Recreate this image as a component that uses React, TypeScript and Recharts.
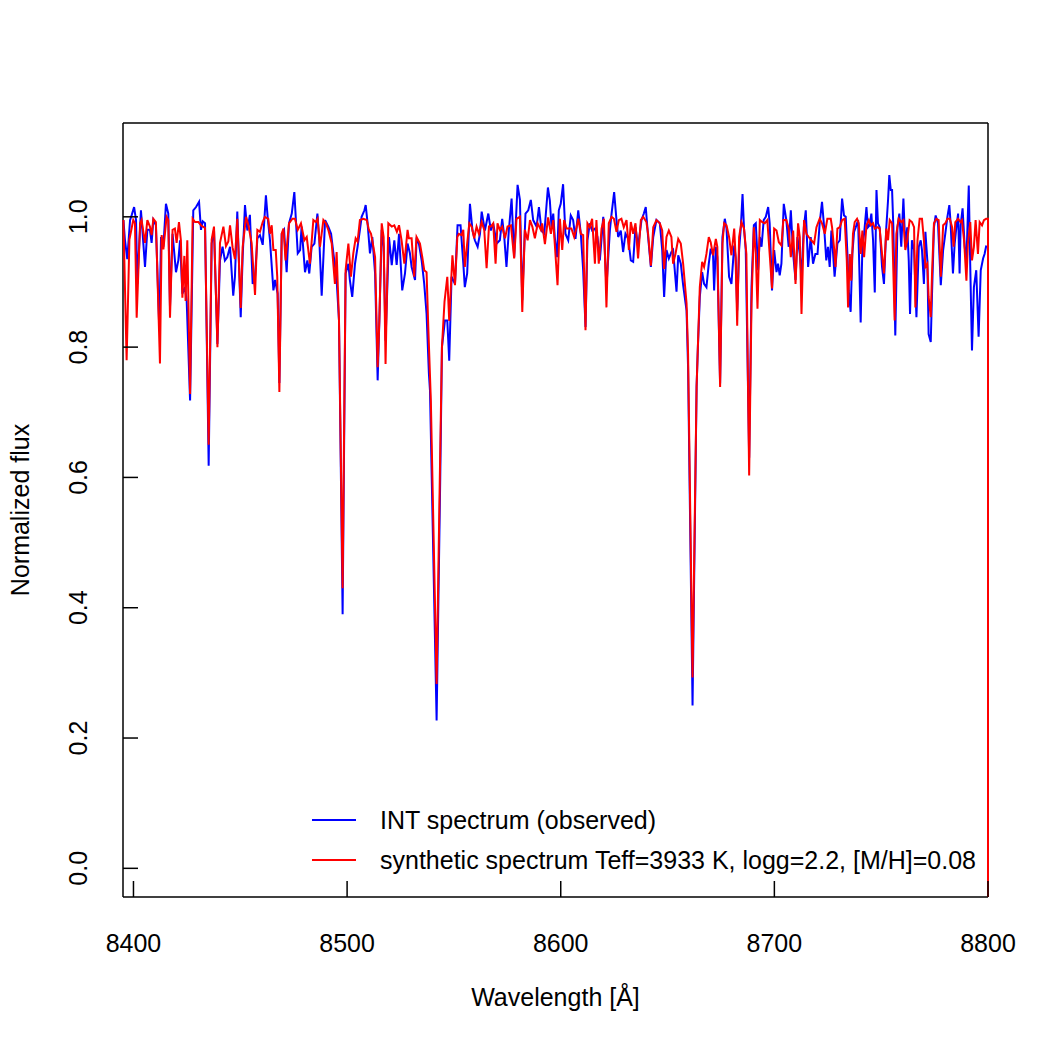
import { LineChart, Line, XAxis, YAxis, CartesianGrid, Legend } from "recharts";

// [wavelength (Å), normalized flux]
const observedSpectrum: [number, number][] = [
  [8395.3, 0.995], [8396.0, 0.965], [8397.1, 0.935], [8398.4, 0.995], [8399.2, 1.003], [8400.3, 1.015],
  [8401.2, 0.995], [8401.8, 0.897], [8403.5, 1.01], [8404.6, 0.96], [8405.4, 0.923], [8406.5, 0.98],
  [8407.7, 0.98], [8408.5, 0.96], [8409.3, 0.995], [8410.5, 0.987], [8412.1, 0.826], [8412.9, 0.969],
  [8414.0, 0.954], [8415.2, 1.02], [8416.3, 1.005], [8417.1, 0.862], [8418.3, 0.974], [8419.9, 0.915],
  [8421.0, 0.933], [8421.8, 0.964], [8422.9, 0.882], [8424.1, 0.892], [8424.9, 0.872], [8426.5, 0.718],
  [8428.0, 1.01], [8429.3, 1.015], [8430.7, 1.023], [8431.6, 0.98], [8432.4, 0.993], [8433.5, 0.99],
  [8435.2, 0.618], [8436.6, 0.959], [8437.7, 0.98], [8439.3, 0.805], [8440.5, 0.933], [8441.7, 0.954],
  [8442.8, 0.933], [8443.9, 0.938], [8445.2, 0.954], [8446.7, 0.879], [8447.5, 0.908], [8448.6, 1.008],
  [8450.2, 0.846], [8451.1, 0.938], [8452.2, 1.018], [8453.3, 0.979], [8454.5, 1.003], [8455.8, 0.897],
  [8456.9, 0.908], [8458.0, 0.967], [8459.2, 0.972], [8460.5, 0.957], [8462.0, 1.033], [8462.8, 1.0],
  [8463.9, 0.964], [8465.5, 0.887], [8466.3, 0.903], [8467.5, 0.882], [8468.3, 0.745], [8469.4, 0.974],
  [8470.5, 0.98], [8471.7, 0.915], [8472.8, 0.99], [8474.1, 1.005], [8475.3, 1.038], [8476.9, 0.944],
  [8478.0, 0.949], [8478.7, 0.985], [8480.3, 0.915], [8481.4, 0.933], [8482.3, 0.913], [8483.4, 0.954],
  [8484.7, 0.959], [8486.1, 1.005], [8487.0, 0.964], [8488.1, 0.879], [8489.7, 0.995], [8491.2, 0.985],
  [8492.5, 0.974], [8494.0, 0.933], [8495.1, 0.903], [8496.2, 0.841], [8497.9, 0.39], [8499.3, 0.913],
  [8500.6, 0.928], [8501.3, 0.903], [8502.4, 0.877], [8503.7, 0.928], [8504.9, 0.954], [8506.0, 0.98],
  [8506.8, 1.0], [8508.1, 1.01], [8508.7, 1.018], [8509.6, 0.99], [8510.7, 0.944], [8511.8, 0.969],
  [8513.1, 0.913], [8514.3, 0.749], [8515.1, 0.841], [8516.2, 0.98], [8517.1, 0.954], [8518.0, 0.81],
  [8519.6, 0.969], [8520.9, 0.926], [8522.1, 0.964], [8523.2, 0.926], [8524.3, 0.974], [8525.8, 0.887],
  [8527.1, 0.913], [8528.3, 0.959], [8529.4, 0.944], [8530.2, 0.923], [8531.8, 0.903], [8532.5, 0.964],
  [8533.6, 0.959], [8534.9, 0.933], [8536.1, 0.897], [8537.2, 0.851], [8538.3, 0.759], [8538.8, 0.733],
  [8541.9, 0.227], [8543.6, 0.6], [8544.4, 0.8], [8545.8, 0.841], [8546.9, 0.841], [8547.8, 0.779],
  [8548.9, 0.908], [8550.5, 0.897], [8551.7, 0.987], [8553.1, 0.987], [8554.4, 0.928], [8555.1, 0.892],
  [8556.2, 0.913], [8557.5, 1.02], [8558.7, 0.979], [8559.8, 0.964], [8561.1, 0.954], [8562.2, 0.974],
  [8563.0, 1.008], [8564.5, 0.979], [8566.1, 1.005], [8567.3, 0.979], [8568.4, 0.99], [8570.0, 0.959],
  [8571.5, 0.964], [8572.6, 0.997], [8573.5, 0.972], [8574.6, 0.923], [8575.7, 0.979], [8577.0, 1.028],
  [8578.2, 0.938], [8579.8, 1.049], [8580.9, 1.026], [8582.0, 0.872], [8583.5, 1.005], [8584.8, 1.01],
  [8586.0, 1.026], [8587.1, 0.995], [8588.7, 0.985], [8589.8, 1.015], [8591.0, 0.979], [8592.3, 0.974],
  [8594.0, 1.045], [8594.9, 1.025], [8595.7, 0.984], [8596.5, 1.005], [8597.2, 0.969], [8598.3, 0.938],
  [8599.1, 1.01], [8600.0, 1.02], [8601.1, 1.05], [8602.2, 0.974], [8603.5, 0.964], [8604.7, 1.002],
  [8605.8, 0.995], [8606.9, 0.966], [8608.2, 1.01], [8609.4, 0.974], [8610.5, 0.918], [8611.6, 0.831],
  [8612.5, 0.964], [8613.6, 0.99], [8614.7, 0.979], [8616.0, 0.982], [8617.2, 0.969], [8618.3, 0.933],
  [8619.9, 1.0], [8621.4, 0.892], [8623.0, 0.979], [8623.8, 1.005], [8625.0, 1.038], [8626.1, 0.995],
  [8626.9, 0.969], [8628.1, 0.979], [8629.2, 0.946], [8630.3, 0.974], [8631.6, 0.966], [8632.8, 0.933],
  [8633.9, 0.931], [8635.0, 0.984], [8636.2, 0.954], [8637.8, 0.995], [8638.9, 1.005], [8639.8, 1.015],
  [8640.9, 0.969], [8642.2, 0.923], [8643.3, 0.969], [8644.8, 0.995], [8646.4, 0.99], [8647.5, 0.949],
  [8648.4, 0.877], [8649.5, 0.949], [8650.6, 0.936], [8651.8, 0.946], [8652.6, 0.949], [8654.2, 0.885],
  [8655.0, 0.941], [8656.2, 0.928], [8657.3, 0.895], [8658.9, 0.856], [8659.6, 0.77], [8661.7, 0.25],
  [8663.6, 0.74], [8664.2, 0.8], [8665.1, 0.877], [8666.2, 0.915], [8667.1, 0.897], [8668.2, 0.892],
  [8669.3, 0.928], [8670.2, 0.951], [8671.3, 0.941], [8671.8, 0.887], [8672.6, 0.954], [8673.3, 0.938],
  [8674.6, 0.744], [8675.7, 0.969], [8676.8, 0.997], [8677.6, 0.982], [8678.8, 0.908], [8679.9, 0.897],
  [8681.2, 0.956], [8681.9, 0.938], [8682.6, 0.856], [8683.5, 0.949], [8684.3, 0.984], [8685.1, 1.035],
  [8685.8, 0.982], [8686.6, 0.949], [8688.2, 0.63], [8689.3, 0.892], [8690.4, 0.987], [8691.3, 0.99],
  [8692.4, 0.918], [8693.2, 0.969], [8694.0, 0.954], [8695.0, 0.995], [8696.0, 1.0], [8697.1, 1.015],
  [8697.8, 0.99], [8698.9, 0.887], [8699.9, 0.949], [8701.0, 0.915], [8701.7, 0.928], [8702.5, 0.91],
  [8703.3, 0.928], [8704.4, 1.02], [8705.6, 0.995], [8706.7, 0.954], [8707.7, 1.01], [8708.8, 0.943],
  [8709.9, 0.903], [8710.8, 0.969], [8711.9, 0.943], [8712.7, 0.908], [8713.8, 0.984], [8714.7, 1.01],
  [8715.8, 0.923], [8717.0, 0.969], [8718.1, 0.928], [8719.2, 0.943], [8720.2, 0.943], [8721.2, 0.99],
  [8722.3, 1.023], [8723.3, 0.984], [8724.3, 0.933], [8725.1, 0.954], [8725.9, 0.923], [8726.7, 0.979],
  [8727.5, 0.943], [8728.2, 0.908], [8729.5, 0.959], [8730.6, 0.964], [8731.7, 1.028], [8732.6, 1.002],
  [8733.4, 1.0], [8734.2, 0.943], [8734.8, 0.887], [8735.7, 0.854], [8736.5, 0.943], [8737.3, 0.977],
  [8738.1, 0.984], [8739.2, 0.995], [8740.4, 0.838], [8741.2, 0.954], [8742.0, 0.974], [8743.1, 1.015],
  [8743.8, 0.984], [8744.6, 0.987], [8745.4, 1.005], [8746.2, 0.964], [8747.0, 0.884], [8747.8, 1.041],
  [8748.5, 0.99], [8749.3, 0.984], [8750.4, 0.923], [8751.3, 0.897], [8752.4, 0.984], [8753.2, 1.025],
  [8753.8, 1.064], [8754.5, 1.041], [8755.1, 1.041], [8755.7, 0.984], [8756.6, 0.818], [8757.6, 0.984],
  [8758.5, 1.005], [8759.4, 0.954], [8760.4, 1.028], [8761.3, 0.954], [8762.2, 0.984], [8762.9, 0.933],
  [8763.5, 0.851], [8764.4, 0.964], [8765.4, 0.949], [8766.5, 0.846], [8767.6, 0.954], [8768.5, 0.964],
  [8769.1, 0.949], [8770.0, 0.897], [8770.7, 0.977], [8771.6, 0.933], [8772.2, 0.82], [8773.2, 0.808],
  [8773.8, 0.882], [8774.7, 0.984], [8775.5, 1.002], [8776.6, 0.99], [8777.9, 0.895], [8779.0, 0.949],
  [8780.0, 0.974], [8781.0, 1.0], [8781.9, 1.018], [8782.5, 0.99], [8783.6, 0.913], [8784.4, 0.959],
  [8785.2, 0.984], [8786.0, 1.005], [8786.7, 0.913], [8787.2, 0.987], [8788.1, 1.013], [8789.1, 0.954],
  [8789.9, 0.933], [8791.0, 1.048], [8791.7, 0.923], [8792.5, 0.795], [8793.4, 0.892], [8794.5, 0.918],
  [8795.6, 0.816], [8796.6, 0.918], [8797.7, 0.936], [8798.4, 0.943], [8799.2, 0.956],
];

const syntheticSpectrum: [number, number][] = [
  [8395.3, 0.995], [8396.8, 0.78], [8398.1, 0.965], [8399.9, 0.995], [8400.7, 0.99], [8401.5, 0.845],
  [8403.1, 0.99], [8403.8, 0.995], [8405.4, 0.96], [8406.5, 0.995], [8407.7, 0.985], [8408.5, 0.972],
  [8409.3, 0.997], [8410.5, 0.992], [8412.4, 0.775], [8413.2, 0.972], [8414.0, 0.95], [8415.5, 1.0],
  [8416.3, 0.995], [8417.1, 0.845], [8418.3, 0.98], [8419.4, 0.982], [8420.2, 0.96], [8421.3, 0.992],
  [8422.2, 0.964], [8422.9, 0.876], [8423.8, 0.94], [8424.4, 0.871], [8425.2, 0.964], [8426.5, 0.728],
  [8427.7, 0.997], [8428.8, 0.992], [8430.4, 0.992], [8431.9, 0.986], [8433.5, 0.983], [8435.2, 0.65],
  [8436.6, 0.965], [8437.7, 0.985], [8439.3, 0.8], [8440.5, 0.96], [8442.1, 0.985], [8443.3, 0.955],
  [8444.4, 0.962], [8445.2, 0.987], [8446.4, 0.953], [8447.5, 0.935], [8448.6, 0.997], [8450.2, 0.86],
  [8451.1, 0.953], [8452.7, 1.0], [8453.8, 0.987], [8455.3, 0.96], [8456.9, 0.88], [8458.0, 0.98],
  [8459.2, 0.977], [8460.5, 0.992], [8461.5, 1.0], [8463.1, 0.997], [8463.9, 0.974], [8464.7, 0.987],
  [8465.5, 0.949], [8466.6, 0.949], [8467.3, 0.908], [8468.3, 0.731], [8469.4, 0.974], [8470.2, 0.982],
  [8471.2, 0.933], [8472.8, 0.99], [8474.4, 0.997], [8475.6, 0.997], [8476.9, 0.98], [8478.4, 0.99],
  [8480.0, 0.964], [8481.1, 0.969], [8482.6, 0.928], [8484.2, 0.995], [8485.3, 0.992], [8486.2, 0.997],
  [8487.3, 0.954], [8488.9, 0.995], [8490.1, 0.99], [8491.2, 0.98], [8492.8, 0.959], [8494.3, 0.897],
  [8495.1, 0.946], [8496.2, 0.841], [8497.9, 0.43], [8499.3, 0.918], [8500.6, 0.959], [8501.8, 0.908],
  [8502.9, 0.944], [8504.0, 0.967], [8504.9, 0.962], [8506.0, 0.995], [8507.6, 0.997], [8509.2, 0.995],
  [8510.2, 0.98], [8511.2, 0.974], [8512.3, 0.954], [8513.1, 0.938], [8514.3, 0.769], [8515.1, 0.841],
  [8516.2, 0.99], [8517.1, 0.969], [8518.0, 0.774], [8519.3, 0.99], [8520.9, 0.985], [8522.1, 0.987],
  [8523.3, 0.977], [8524.3, 0.987], [8525.5, 0.964], [8526.8, 0.928], [8528.3, 0.98], [8528.9, 0.967],
  [8530.2, 0.967], [8531.4, 0.908], [8532.5, 0.969], [8534.1, 0.959], [8535.2, 0.938], [8536.1, 0.918],
  [8537.2, 0.915], [8538.0, 0.831], [8539.2, 0.718], [8541.9, 0.283], [8543.4, 0.6], [8544.4, 0.8],
  [8545.6, 0.87], [8546.9, 0.908], [8547.8, 0.84], [8549.3, 0.941], [8550.5, 0.895], [8551.6, 0.969],
  [8552.3, 0.974], [8553.6, 0.972], [8554.4, 0.98], [8555.1, 0.923], [8556.2, 0.959], [8557.2, 0.99],
  [8558.3, 0.985], [8559.5, 0.967], [8560.6, 0.985], [8561.7, 0.974], [8563.0, 0.992], [8564.2, 0.98],
  [8565.3, 0.921], [8566.4, 0.985], [8567.3, 0.985], [8568.4, 0.99], [8569.5, 0.928], [8570.4, 0.99],
  [8571.5, 0.98], [8572.6, 0.985], [8573.9, 0.967], [8575.1, 0.985], [8576.7, 0.987], [8578.2, 0.936],
  [8579.3, 0.997], [8580.9, 1.0], [8582.0, 0.854], [8583.2, 0.98], [8584.5, 0.964], [8585.6, 0.995],
  [8586.7, 0.985], [8587.9, 0.967], [8589.2, 0.99], [8590.7, 0.98], [8591.3, 0.99], [8592.6, 0.958],
  [8594.1, 0.999], [8595.4, 0.974], [8596.5, 0.995], [8597.2, 0.959], [8598.5, 0.895], [8599.6, 0.997],
  [8600.7, 0.949], [8601.6, 0.995], [8602.7, 0.982], [8603.8, 0.982], [8605.0, 0.982], [8606.3, 0.969],
  [8607.4, 0.984], [8608.2, 0.997], [8609.4, 0.974], [8610.5, 0.972], [8611.6, 0.826], [8612.5, 0.99],
  [8613.6, 0.984], [8614.7, 0.997], [8616.0, 0.928], [8616.7, 0.995], [8617.8, 0.928], [8619.1, 0.982],
  [8620.2, 0.997], [8621.4, 0.861], [8622.5, 0.99], [8623.8, 1.0], [8624.9, 0.997], [8626.1, 0.977],
  [8627.2, 0.995], [8628.4, 0.997], [8629.5, 0.984], [8630.8, 0.995], [8631.9, 0.949], [8632.8, 0.992],
  [8633.9, 0.974], [8635.0, 0.99], [8636.2, 0.936], [8637.5, 0.995], [8638.6, 1.0], [8640.1, 0.992],
  [8640.9, 0.974], [8642.2, 0.925], [8643.3, 0.984], [8644.8, 0.995], [8646.4, 0.99], [8647.5, 0.979],
  [8648.4, 0.92], [8649.5, 0.969], [8650.6, 0.979], [8651.8, 0.969], [8652.6, 0.928], [8653.7, 0.943],
  [8655.0, 0.966], [8656.2, 0.959], [8657.3, 0.928], [8658.9, 0.867], [8659.6, 0.79], [8661.7, 0.293],
  [8663.6, 0.74], [8664.0, 0.78], [8665.1, 0.892], [8666.2, 0.931], [8667.1, 0.923], [8668.2, 0.943],
  [8669.3, 0.969], [8670.2, 0.961], [8671.3, 0.941], [8672.6, 0.966], [8673.3, 0.954], [8674.6, 0.739],
  [8675.7, 0.959], [8676.5, 0.99], [8677.6, 0.987], [8678.8, 0.969], [8679.9, 0.941], [8681.2, 0.982],
  [8681.8, 0.943], [8682.6, 0.833], [8683.5, 0.969], [8684.6, 0.992], [8685.8, 0.982], [8686.9, 0.943],
  [8688.2, 0.603], [8689.3, 0.867], [8690.4, 0.984], [8691.3, 0.943], [8692.1, 0.859], [8693.2, 0.995],
  [8694.2, 0.992], [8695.5, 0.99], [8696.7, 0.995], [8697.8, 0.943], [8698.9, 0.89], [8699.9, 0.982],
  [8701.0, 0.979], [8702.1, 0.961], [8703.3, 0.956], [8704.2, 0.995], [8705.6, 0.995], [8706.7, 0.982],
  [8707.7, 0.938], [8708.8, 0.979], [8709.9, 0.897], [8711.1, 0.99], [8711.9, 0.969], [8712.7, 0.851],
  [8713.9, 0.995], [8715.0, 0.974], [8716.1, 0.969], [8717.3, 0.964], [8718.6, 0.959], [8719.7, 0.984],
  [8721.2, 0.997], [8722.3, 0.99], [8723.6, 0.974], [8724.8, 0.997], [8726.4, 0.997], [8727.0, 0.984],
  [8727.9, 0.954], [8728.6, 0.923], [8729.5, 0.982], [8730.6, 0.984], [8731.7, 0.995], [8732.9, 0.997],
  [8733.9, 0.933], [8734.5, 0.861], [8735.3, 0.943], [8736.0, 0.902], [8736.8, 0.974], [8737.6, 0.992],
  [8738.7, 0.997], [8739.5, 0.99], [8740.4, 0.943], [8741.2, 0.979], [8742.0, 0.938], [8743.1, 0.987],
  [8744.2, 0.995], [8745.1, 0.987], [8746.2, 0.99], [8747.0, 0.982], [8748.2, 0.984], [8749.3, 0.982],
  [8750.4, 0.943], [8751.3, 0.913], [8752.4, 0.982], [8753.2, 0.964], [8754.0, 0.995], [8755.1, 0.99],
  [8756.3, 0.841], [8757.1, 0.974], [8758.2, 0.997], [8759.4, 0.992], [8760.4, 0.995], [8761.3, 0.949],
  [8762.2, 0.964], [8763.3, 0.995], [8764.4, 0.992], [8765.4, 0.984], [8766.0, 0.861], [8767.0, 0.964],
  [8768.0, 0.997], [8769.1, 0.997], [8770.0, 0.964], [8770.7, 0.923], [8771.6, 0.928], [8772.2, 0.877],
  [8773.2, 0.846], [8773.8, 0.913], [8774.7, 0.99], [8775.8, 0.997], [8776.9, 0.995], [8777.9, 0.908],
  [8779.0, 0.987], [8780.0, 0.99], [8781.0, 0.997], [8782.1, 0.997], [8783.2, 0.984], [8783.9, 0.954],
  [8784.7, 0.992], [8786.0, 0.997], [8787.1, 0.992], [8787.8, 0.995], [8788.8, 0.964], [8789.9, 0.902],
  [8790.6, 0.959], [8791.7, 0.992], [8792.5, 0.933], [8793.4, 0.954], [8794.2, 0.995], [8795.3, 0.943],
  [8796.1, 0.992], [8797.2, 0.987], [8798.1, 0.995], [8799.1, 0.997], [8800.0, 0.997], [8800.0, -0.044],
];

const xTicks = [8400, 8500, 8600, 8700, 8800];
const yTicks = [0, 0.2, 0.4, 0.6, 0.8, 1.0];
const xDomain: [number, number] = [8395.1, 8800];
const yDomain: [number, number] = [-0.044, 1.144];

const observedData = observedSpectrum.map(([w, f]) => ({ w, f }));
const syntheticData = syntheticSpectrum.map(([w, f]) => ({ w, f }));

const FONT = "'Liberation Sans', Arial, Helvetica, sans-serif";
const FONT_SIZE = 25;
const PLOT_LEFT = 123;
const PLOT_BOTTOM = 897;

function XTick(props: any) {
  const { x, payload } = props;
  return (
    <g>
      <line x1={x} x2={x} y1={PLOT_BOTTOM} y2={PLOT_BOTTOM - 16} stroke="#000" strokeWidth={1.5} />
      <text x={x} y={943} dy="0.36em" textAnchor="middle" fontSize={FONT_SIZE} fontFamily={FONT} fill="#000">
        {payload.value}
      </text>
    </g>
  );
}

function YTick(props: any) {
  const { y, payload } = props;
  return (
    <g>
      <line x1={PLOT_LEFT} x2={PLOT_LEFT + 15} y1={y} y2={y} stroke="#000" strokeWidth={1.5} />
      <text
        x={78}
        y={y}
        dy="0.36em"
        textAnchor="middle"
        fontSize={FONT_SIZE}
        fontFamily={FONT}
        fill="#000"
        transform={`rotate(-90, 78, ${y})`}
      >
        {Number(payload.value).toFixed(1)}
      </text>
    </g>
  );
}

function LegendBox(props: any) {
  const items = props.payload || [];
  return (
    <svg width={700} height={80} style={{ display: "block" }}>
      {items.map((item: any, i: number) => (
        <g key={item.value}>
          <line x1={12} x2={56} y1={20 + i * 40} y2={20 + i * 40} stroke={item.color} strokeWidth={2} />
          <text x={80} y={20 + i * 40} dy="0.36em" fontSize={FONT_SIZE} fontFamily={FONT} fill="#000">
            {item.value}
          </text>
        </g>
      ))}
    </svg>
  );
}

// frame around the plotting region, drawn as grid lines at the plot edges
const frameX = ({ offset }: any) => [offset.left, offset.left + offset.width];
const frameY = ({ offset }: any) => [offset.top, offset.top + offset.height];

export default function App() {
  return (
    <div style={{ position: "absolute", left: 0, top: 0, width: 1050, height: 1050, background: "#fff" }}>
      <LineChart width={1050} height={1050} margin={{ top: 123, right: 62, bottom: 93, left: 63 }}>
        <CartesianGrid
          stroke="#000"
          strokeWidth={1.5}
          strokeDasharray=""
          verticalCoordinatesGenerator={frameX}
          horizontalCoordinatesGenerator={frameY}
        />
        <XAxis
          dataKey="w"
          type="number"
          domain={xDomain}
          ticks={xTicks}
          height={60}
          axisLine={false}
          tickLine={false}
          tick={XTick}
          label={() => (
            <text x={555.5} y={997} dy="0.36em" textAnchor="middle" fontSize={FONT_SIZE} fontFamily={FONT} fill="#000">
              Wavelength [Å]
            </text>
          )}
        />
        <YAxis
          dataKey="f"
          type="number"
          domain={yDomain}
          ticks={yTicks}
          width={60}
          axisLine={false}
          tickLine={false}
          tick={YTick}
          label={() => (
            <text
              x={20}
              y={510}
              dy="0.36em"
              textAnchor="middle"
              fontSize={FONT_SIZE}
              fontFamily={FONT}
              fill="#000"
              transform="rotate(-90, 20, 510)"
            >
              Normalized flux
            </text>
          )}
        />
        <Line
          data={observedData}
          dataKey="f"
          name="INT spectrum (observed)"
          type="linear"
          stroke="#0000ff"
          strokeWidth={2}
          dot={false}
          activeDot={false}
          isAnimationActive={false}
        />
        <Line
          data={syntheticData}
          dataKey="f"
          name="synthetic spectrum Teff=3933 K, logg=2.2, [M/H]=0.08"
          type="linear"
          stroke="#ff0000"
          strokeWidth={2}
          dot={false}
          activeDot={false}
          isAnimationActive={false}
        />
        <Legend
          layout="vertical"
          align="center"
          verticalAlign="middle"
          wrapperStyle={{ left: 300, top: 800, width: 700, height: 80 }}
          content={LegendBox}
        />
      </LineChart>
    </div>
  );
}
